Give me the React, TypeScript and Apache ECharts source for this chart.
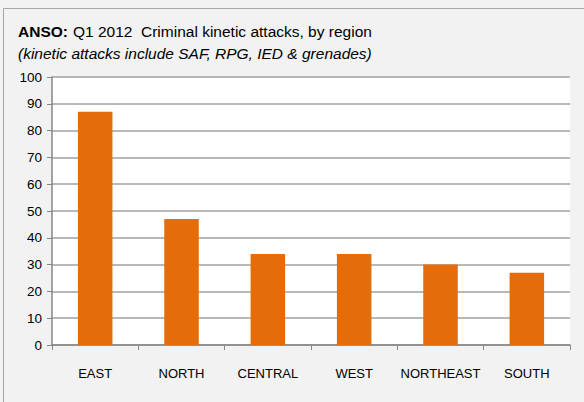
import React, { useEffect, useRef } from "react";
import * as echarts from "echarts";

const categories = ["EAST", "NORTH", "CENTRAL", "WEST", "NORTHEAST", "SOUTH"];
const attacks = [87, 47, 34, 34, 30, 27];
const titleBold = "ANSO:";
const titleRest = "Q1 2012  Criminal kinetic attacks, by region";
const subtitle = "(kinetic attacks include SAF, RPG, IED & grenades)";

export default function App() {
  const ref = useRef<HTMLDivElement>(null);
  useEffect(() => {
    if (!ref.current) return;
    const chart = echarts.init(ref.current, undefined, { renderer: "svg" });
    const font = "'Liberation Sans', Arial, sans-serif";
    chart.setOption({
      animation: false,
      backgroundColor: "#F2F2F2",
      title: [
        {
          left: 13,
          top: 17,
          text: `{b|${titleBold}} {n|${titleRest}}`,
          textStyle: {
            rich: {
              b: { fontFamily: font, fontWeight: "bold", fontSize: 15.5, color: "#000" },
              n: { fontFamily: font, fontWeight: "normal", fontSize: 15.5, color: "#000" },
            },
          },
        },
        {
          left: 13,
          top: 40,
          text: subtitle,
          textStyle: { fontFamily: font, fontStyle: "italic", fontWeight: "normal", fontSize: 15.5, color: "#000" },
        },
      ],
      graphic: [
        {
          type: "polyline",
          shape: { points: [[3.5, 402], [3.5, 8.5], [584, 8.5]] },
          style: { stroke: "#A6A6A6", lineWidth: 1, fill: "none" },
          silent: true,
        },
        {
          type: "rect",
          shape: { x: 52, y: 77, width: 518, height: 268 },
          style: { fill: "#FFFFFF" },
          z: -1,
          silent: true,
        },
      ],
      grid: { left: 52, right: 14, top: 77, bottom: 57, containLabel: false },
      xAxis: {
        type: "category",
        data: categories,
        axisLine: { lineStyle: { color: "#868686", width: 1.5 } },
        axisTick: { show: true, length: 5, lineStyle: { color: "#868686" } },
        axisLabel: { fontFamily: font, fontSize: 13, color: "#000", margin: 22, interval: 0 },
      },
      yAxis: {
        type: "value",
        min: 0,
        max: 100,
        interval: 10,
        axisLine: { show: true, lineStyle: { color: "#868686", width: 1.5 } },
        axisTick: { show: true, length: 5, lineStyle: { color: "#868686" } },
        axisLabel: { fontFamily: font, fontSize: 13.5, color: "#000", margin: 10 },
        splitLine: { show: true, lineStyle: { color: "#A0A0A0", width: 1.5 } },
      },
      series: [
        {
          type: "bar",
          data: attacks,
          barWidth: "40%",
          itemStyle: { color: "#E46C0A" },
        },
      ],
    });
    return () => chart.dispose();
  }, []);
  return <div ref={ref} style={{ width: 584, height: 402, position: "absolute", left: 0, top: 0 }} />;
}
